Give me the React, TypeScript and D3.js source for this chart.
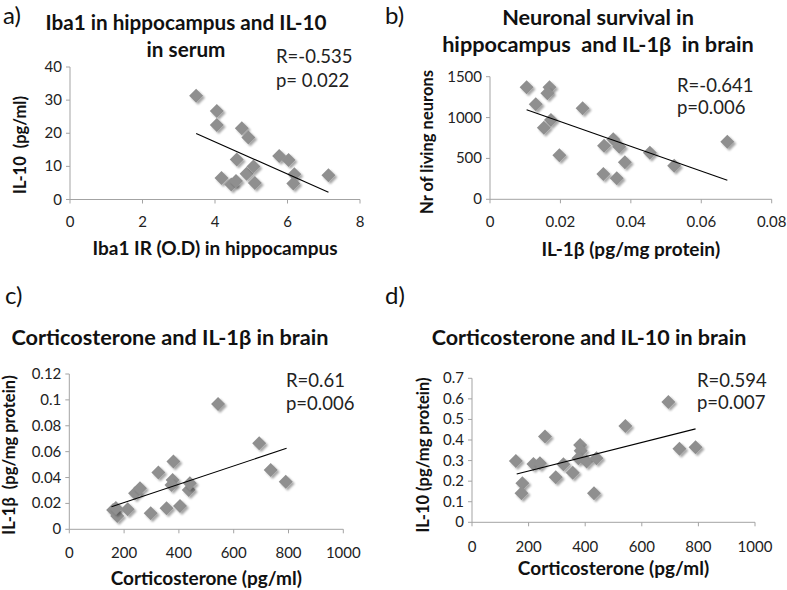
import * as d3 from "d3";

// panel a: Iba1 IR (O.D) vs IL-10 (pg/ml)
const aX = [3.48, 4.05, 4.05, 4.74, 4.92, 4.6, 4.18, 4.45, 4.58, 4.87, 5.06, 5.1, 5.77, 6.03, 6.19, 6.16, 7.13];
const aY = [31.3, 26.7, 22.5, 21.5, 18.7, 12.1, 6.5, 4.5, 5.6, 7.8, 10.0, 5.0, 13.1, 11.9, 7.6, 4.8, 7.3];
const aLine = [[3.48, 19.9], [7.13, 2.2]];

// panel b: IL-1β (pg/mg protein) vs neurons
const bX = [0.0104, 0.013, 0.0169, 0.0163, 0.0173, 0.0153, 0.0197, 0.0263, 0.0324, 0.0322, 0.035, 0.0367, 0.036, 0.0383, 0.0454, 0.0523, 0.0674];
const bY = [1370, 1162, 1370, 1296, 970, 876, 538, 1113, 656, 310, 734, 644, 257, 452, 571, 412, 705];
const bLine = [[0.0104, 1095], [0.0674, 232]];

// panel c: corticosterone vs IL-1β
const cX = [160, 175, 170, 213, 240, 258, 297, 325, 355, 380, 377, 373, 404, 436, 440, 543, 693, 735, 790];
const cY = [0.0149, 0.0103, 0.0165, 0.0155, 0.0278, 0.0317, 0.0124, 0.0438, 0.0162, 0.0523, 0.0381, 0.0343, 0.018, 0.0304, 0.0355, 0.0968, 0.0664, 0.0458, 0.0368];
const cLine = [[154, 0.0175], [793, 0.0626]];

// panel d: corticosterone vs IL-10
const dX = [155, 178, 175, 217, 240, 258, 296, 323, 356, 382, 384, 376, 405, 431, 440, 542, 694, 733, 790];
const dY = [0.298, 0.19, 0.141, 0.284, 0.287, 0.417, 0.219, 0.282, 0.241, 0.376, 0.348, 0.311, 0.295, 0.141, 0.311, 0.468, 0.585, 0.357, 0.365];
const dLine = [[158, 0.235], [790, 0.454]];

const FONT = "Lato, 'Open Sans', sans-serif";
const AXIS = "#a3a3a3";
const MARK = "#8f8f8f";

type PanelProps = {
  letter: string;
  letterX: number;
  letterY: number;
  title: string[];
  titleX: number;
  titleY: number[];
  titleSize: number;
  box: [number, number, number, number]; // x0, y0, x1, y1
  xDomain: [number, number];
  yDomain: [number, number];
  xTicks: number[];
  yTicks: number[];
  xs: number[];
  ys: number[];
  line: number[][];
  stats: string[];
  statsX: number;
  statsY: number[];
  xLabel: string;
  xLabelY: number;
  yLabel: string;
  yLabelX: number;
  yLabelY: number;
  xTickY: number;
};

function Panel(p: PanelProps) {
  const [x0, y0, x1, y1] = p.box;
  const x = d3.scaleLinear().domain(p.xDomain).range([x0, x1]);
  const y = d3.scaleLinear().domain(p.yDomain).range([y1, y0]);
  const fmt = (v: number) => String(+v.toFixed(4));
  const lineGen = d3.line<number[]>().x((d) => x(d[0])).y((d) => y(d[1]));
  const r = 7;
  return (
    <g>
      <text x={p.letterX} y={p.letterY} fontSize={24} fontFamily={FONT} fill="#111">
        {p.letter}
      </text>
      {p.title.map((t, i) => (
        <text key={i} x={p.titleX} y={p.titleY[i]} textAnchor="middle" fontSize={p.titleSize} fontWeight={700} fontFamily={FONT} fill="#111" style={{ whiteSpace: "pre" }}>
          {t}
        </text>
      ))}
      {/* axes */}
      <line x1={x0} x2={x1} y1={y1} y2={y1} stroke={AXIS} />
      <line x1={x0} x2={x0} y1={y0} y2={y1} stroke={AXIS} />
      {p.xTicks.map((t) => (
        <g key={`x${t}`}>
          <line x1={x(t)} x2={x(t)} y1={y1} y2={y1 + 4} stroke={AXIS} />
          <text x={x(t)} y={p.xTickY} textAnchor="middle" fontSize={15} fontFamily={FONT} fill="#222">
            {fmt(t)}
          </text>
        </g>
      ))}
      {p.yTicks.map((t) => (
        <g key={`y${t}`}>
          <line x1={x0 - 4} x2={x0} y1={y(t)} y2={y(t)} stroke={AXIS} />
          <text x={x0 - 8} y={y(t) + 5} textAnchor="end" fontSize={15} fontFamily={FONT} fill="#222">
            {fmt(t)}
          </text>
        </g>
      ))}
      {/* markers */}
      {p.xs.map((v, i) => {
        const cx = x(v);
        const cy = y(p.ys[i]);
        return (
          <path
            key={i}
            d={`M${cx},${cy - r}L${cx + r},${cy}L${cx},${cy + r}L${cx - r},${cy}Z`}
            fill={MARK}
            filter="url(#shadow)"
          />
        );
      })}
      <path d={lineGen(p.line) ?? ""} stroke="#000" strokeWidth={1.1} fill="none" />
      {p.stats.map((s, i) => (
        <text key={s} x={p.statsX} y={p.statsY[i]} fontSize={18.5} fontFamily={FONT} fill="#222" style={{ whiteSpace: "pre" }}>
          {s}
        </text>
      ))}
      <text x={(x0 + x1) / 2} y={p.xLabelY} textAnchor="middle" fontSize={19} fontWeight={700} fontFamily={FONT} fill="#111">
        {p.xLabel}
      </text>
      <text
        transform={`translate(${p.yLabelX},${p.yLabelY}) rotate(-90)`}
        textAnchor="middle"
        fontSize={16.5}
        fontWeight={700}
        fontFamily={FONT}
        fill="#111"
        style={{ whiteSpace: "pre" }}
      >
        {p.yLabel}
      </text>
    </g>
  );
}

export default function App() {
  return (
    <svg width={787} height={590} style={{ position: "absolute", left: 0, top: 0, background: "#fff" }}>
      <defs>
        <filter id="shadow" x="-50%" y="-50%" width="200%" height="200%">
          <feGaussianBlur in="SourceAlpha" stdDeviation="1.2" />
          <feOffset dx="1.5" dy="1.5" result="b" />
          <feComponentTransfer>
            <feFuncA type="linear" slope="0.35" />
          </feComponentTransfer>
          <feMerge>
            <feMergeNode />
            <feMergeNode in="SourceGraphic" />
          </feMerge>
        </filter>
      </defs>
      <rect width={787} height={590} fill="#fff" />
      <Panel
        letter="a)"
        letterX={3}
        letterY={24}
        title={["Iba1 in hippocampus and IL-10", "in serum"]}
        titleX={186}
        titleY={[30, 57]}
        titleSize={20.7}
        box={[70, 67, 360, 199.5]}
        xDomain={[0, 8]}
        yDomain={[0, 40]}
        xTicks={[0, 2, 4, 6, 8]}
        yTicks={[0, 10, 20, 30, 40]}
        xs={aX}
        ys={aY}
        line={aLine}
        stats={["R=-0.535", "p= 0.022"]}
        statsX={276}
        statsY={[63, 87]}
        xLabel="Iba1 IR (O.D) in hippocampus"
        xLabelY={255}
        yLabel="IL-10  (pg/ml)"
        yLabelX={26}
        yLabelY={145}
        xTickY={226.5}
      />
      <Panel
        letter="b)"
        letterX={385}
        letterY={24}
        title={["Neuronal survival in", "hippocampus  and IL-1β  in brain"]}
        titleX={598}
        titleY={[25, 52]}
        titleSize={21.7}
        box={[490, 76.7, 771.7, 199.3]}
        xDomain={[0, 0.08]}
        yDomain={[0, 1500]}
        xTicks={[0, 0.02, 0.04, 0.06, 0.08]}
        yTicks={[0, 500, 1000, 1500]}
        xs={bX}
        ys={bY}
        line={bLine}
        stats={["R=-0.641", "p=0.006"]}
        statsX={677}
        statsY={[92, 114]}
        xLabel="IL-1β (pg/mg protein)"
        xLabelY={256}
        yLabel="Nr of living neurons"
        yLabelX={433}
        yLabelY={142}
        xTickY={226.5}
      />
      <Panel
        letter="c)"
        letterX={5}
        letterY={304}
        title={["Corticosterone and IL-1β in brain"]}
        titleX={170}
        titleY={[345]}
        titleSize={21.7}
        box={[69.3, 374, 343.3, 529.3]}
        xDomain={[0, 1000]}
        yDomain={[0, 0.12]}
        xTicks={[0, 200, 400, 600, 800, 1000]}
        yTicks={[0, 0.02, 0.04, 0.06, 0.08, 0.1, 0.12]}
        xs={cX}
        ys={cY}
        line={cLine}
        stats={["R=0.61", "p=0.006"]}
        statsX={286}
        statsY={[387, 410]}
        xLabel="Corticosterone (pg/ml)"
        xLabelY={585}
        yLabel="IL-1β  (pg/mg protein)"
        yLabelX={15}
        yLabelY={455}
        xTickY={558}
      />
      <Panel
        letter="d)"
        letterX={385}
        letterY={304}
        title={["Corticosterone and IL-10 in brain"]}
        titleX={589}
        titleY={[345]}
        titleSize={21.5}
        box={[472, 378.3, 755, 522.3]}
        xDomain={[0, 1000]}
        yDomain={[0, 0.7]}
        xTicks={[0, 200, 400, 600, 800, 1000]}
        yTicks={[0, 0.1, 0.2, 0.3, 0.4, 0.5, 0.6, 0.7]}
        xs={dX}
        ys={dY}
        line={dLine}
        stats={["R=0.594", "p=0.007"]}
        statsX={697}
        statsY={[387, 409]}
        xLabel="Corticosterone (pg/ml)"
        xLabelY={575}
        yLabel="IL-10 (pg/mg protein)"
        yLabelX={429}
        yLabelY={455}
        xTickY={552}
      />
    </svg>
  );
}
